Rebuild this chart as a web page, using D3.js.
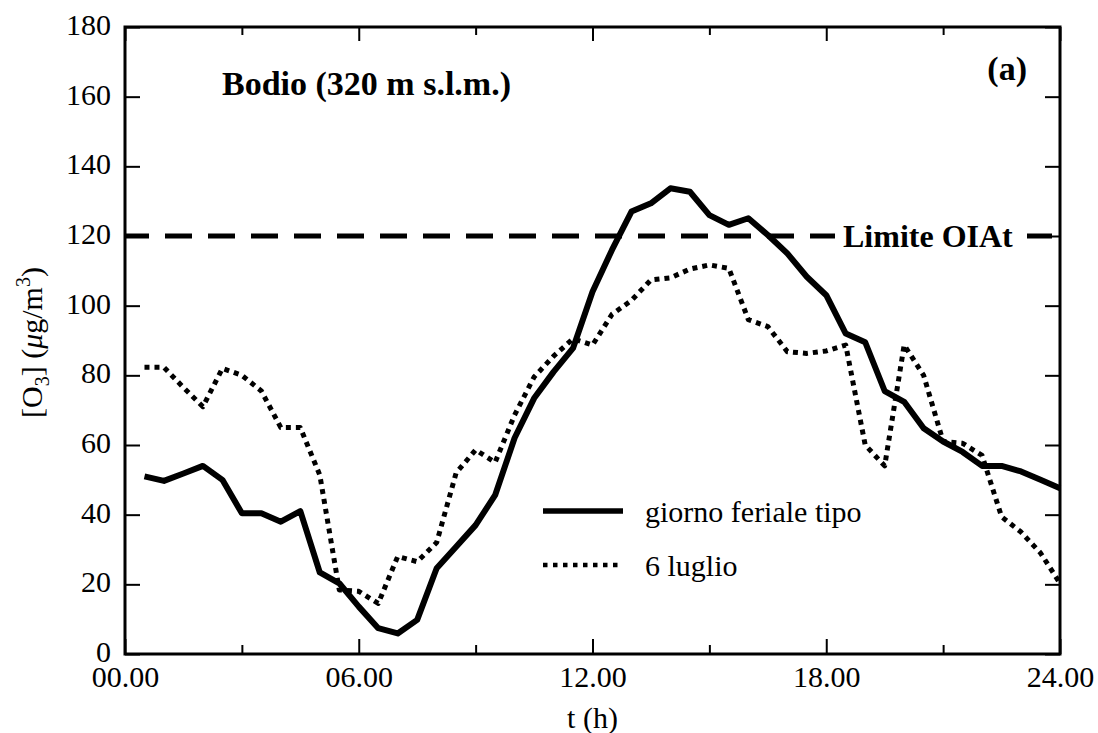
<!DOCTYPE html>
<html>
<head>
<meta charset="utf-8">
<script src="https://cdn.jsdelivr.net/npm/d3@7"></script>
<style>
  html, body { margin: 0; padding: 0; background: #fff; }
  svg { display: block; }
  svg text { font-family: "Liberation Serif", Tinos, "DejaVu Serif", serif; fill: #000; }
</style>
</head>
<body>
<script>
// ---- data ----
const hours = [0.5, 1, 1.5, 2, 2.5, 3, 3.5, 4, 4.5, 5, 5.5, 6, 6.5, 7, 7.5, 8, 8.5, 9, 9.5, 10,
  10.5, 11, 11.5, 12, 12.5, 13, 13.5, 14, 14.5, 15, 15.5, 16, 16.5, 17, 17.5, 18, 18.5, 19, 19.5, 20,
  20.5, 21, 21.5, 22, 22.5, 23, 23.5, 24];
const weekdayO3 = [51, 49.7, 51.8, 54, 50, 40.4, 40.4, 38, 41, 23.4, 20.3, 13.6, 7.4, 5.9, 9.8, 24.6, 30.8, 37, 45.6, 62,
  73.4, 81, 87.8, 104, 116, 127, 129.4, 133.7, 132.7, 126, 123.2, 125.1, 120.3, 115, 108.3, 103, 92, 89.5, 75.5, 72.4,
  64.8, 61, 58, 54, 54, 52.4, 50, 47.6];
const july6O3 = [82.3, 82.3, 76.5, 71, 82, 80, 75.5, 65, 65, 51.4, 18.4, 18, 14.5, 28, 26.5, 32, 52, 58.6, 55, 68.6,
  79.5, 85.5, 90.5, 88.7, 97.5, 101.5, 107.4, 108, 110.5, 111.7, 110.7, 96, 94, 86.8, 86.3, 87, 88.7, 60, 54, 88.7,
  80, 61, 60.5, 57, 39.4, 35, 29, 20.3];
const yTicks = [0, 20, 40, 60, 80, 100, 120, 140, 160, 180];
const xMajorTicks = [0, 6, 12, 18, 24];
const xTickLabels = ["00.00", "06.00", "12.00", "18.00", "24.00"];
const xMinorTicks = [3, 9, 15, 21];
const limitValue = 120;
const seriesNames = ["giorno feriale tipo", "6 luglio"];
const limitLabel = "Limite OIAt";
const stationLabel = "Bodio (320 m s.l.m.)";
const panelLabel = "(a)";

// ---- layout ----
const W = 1098, H = 733;
const L = 125, R = 1060, T = 27, B = 654;
const FONT = '"Liberation Serif", Tinos, "DejaVu Serif", serif';

const svg = d3.select("body").append("svg").attr("width", W).attr("height", H)
  .attr("font-family", FONT);

const x = d3.scaleLinear().domain([0, 24]).range([L, R]);
const y = d3.scaleLinear().domain([0, 180]).range([B, T]);

svg.append("clipPath").attr("id", "plotclip")
  .append("rect").attr("x", L).attr("y", T).attr("width", R - L).attr("height", B - T);

// limit dashed line
const g = svg.append("g").attr("clip-path", "url(#plotclip)");
g.append("line")
  .attr("x1", x(0) - 3).attr("x2", x(24))
  .attr("y1", y(limitValue)).attr("y2", y(limitValue))
  .attr("stroke", "#000").attr("stroke-width", 5)
  .attr("stroke-dasharray", "27,16");
// white box behind limit label
g.append("rect")
  .attr("x", 835).attr("y", y(limitValue) - 20)
  .attr("width", 192).attr("height", 40)
  .attr("fill", "#fff");
svg.append("text")
  .attr("x", 843).attr("y", y(limitValue) + 11)
  .attr("font-family", FONT)
  .attr("font-size", 32).attr("font-weight", "bold")
  .text(limitLabel);

// series lines
const line = d3.line().x((d, i) => x(hours[i])).y(d => y(d));
svg.append("path").datum(july6O3)
  .attr("d", line).attr("fill", "none")
  .attr("stroke", "#000").attr("stroke-width", 5)
  .attr("stroke-dasharray", "5,5")
  .attr("stroke-linejoin", "round");
svg.append("path").datum(weekdayO3)
  .attr("d", line).attr("fill", "none")
  .attr("stroke", "#000").attr("stroke-width", 6)
  .attr("stroke-linejoin", "round");

// axes
function styleAxis(sel, fontSize) {
  sel.attr("font-family", FONT).attr("font-size", fontSize);
  sel.select(".domain").remove();
  sel.selectAll(".tick line").attr("stroke", "#000").attr("stroke-width", 2);
  sel.selectAll(".tick text").attr("font-size", fontSize)
    .attr("font-family", FONT).attr("fill", "#000");
}

const yAxisL = svg.append("g").attr("transform", `translate(${L},0)`)
  .call(d3.axisLeft(y).tickValues(yTicks).tickSize(-15).tickPadding(14).tickFormat(d3.format("d")));
styleAxis(yAxisL, 30);
yAxisL.selectAll(".tick text").attr("dy", "0.25em");

const yAxisR = svg.append("g").attr("transform", `translate(${R},0)`)
  .call(d3.axisRight(y).tickValues(yTicks).tickSize(-15).tickFormat(""));
styleAxis(yAxisR, 30);

const xAxisB = svg.append("g").attr("transform", `translate(0,${B})`)
  .call(d3.axisBottom(x).tickValues(xMajorTicks).tickSize(-15).tickPadding(12)
    .tickFormat((d, i) => xTickLabels[i]));
styleAxis(xAxisB, 30);

const xAxisBMinor = svg.append("g").attr("transform", `translate(0,${B})`)
  .call(d3.axisBottom(x).tickValues(xMinorTicks).tickSize(-9).tickFormat(""));
styleAxis(xAxisBMinor, 30);

const xAxisT = svg.append("g").attr("transform", `translate(0,${T})`)
  .call(d3.axisTop(x).tickValues(xMajorTicks).tickSize(-14).tickFormat(""));
styleAxis(xAxisT, 30);
const xAxisTMinor = svg.append("g").attr("transform", `translate(0,${T})`)
  .call(d3.axisTop(x).tickValues(xMinorTicks).tickSize(-8).tickFormat(""));
styleAxis(xAxisTMinor, 30);

// frame
svg.append("rect")
  .attr("x", L).attr("y", T).attr("width", R - L).attr("height", B - T)
  .attr("fill", "none").attr("stroke", "#000").attr("stroke-width", 3);

// axis titles
svg.append("text")
  .attr("x", (L + R) / 2).attr("y", 728)
  .attr("text-anchor", "middle").attr("font-size", 30)
  .text("t (h)");

const yt = svg.append("text")
  .attr("transform", `translate(42,${(T + B) / 2 + 2}) rotate(-90)`)
  .attr("text-anchor", "middle").attr("font-size", 30);
yt.append("tspan").text("[O");
yt.append("tspan").attr("font-size", 20).attr("dy", 7).text("3");
yt.append("tspan").attr("dy", -7).text("] (");
yt.append("tspan").attr("font-style", "italic").text("\u03bc");
yt.append("tspan").text("g/m");
yt.append("tspan").attr("font-size", 20).attr("dy", -12).text("3");
yt.append("tspan").attr("dy", 12).text(")");

// station and panel labels
svg.append("text")
  .attr("x", 222).attr("y", 95)
  .attr("font-size", 34).attr("font-weight", "bold")
  .text(stationLabel);
svg.append("text")
  .attr("x", 1027).attr("y", 80)
  .attr("text-anchor", "end")
  .attr("font-size", 34).attr("font-weight", "bold")
  .text(panelLabel);

// legend
const legend = svg.append("g");
legend.append("line")
  .attr("x1", 543).attr("x2", 623).attr("y1", 511).attr("y2", 511)
  .attr("stroke", "#000").attr("stroke-width", 5.5);
legend.append("text").attr("x", 645).attr("y", 522).attr("font-size", 30).text(seriesNames[0]);
legend.append("line")
  .attr("x1", 543).attr("x2", 623).attr("y1", 565).attr("y2", 565)
  .attr("stroke", "#000").attr("stroke-width", 4.5)
  .attr("stroke-dasharray", "4.5,5.5");
legend.append("text").attr("x", 645).attr("y", 576).attr("font-size", 30).text(seriesNames[1]);
</script>
</body>
</html>
